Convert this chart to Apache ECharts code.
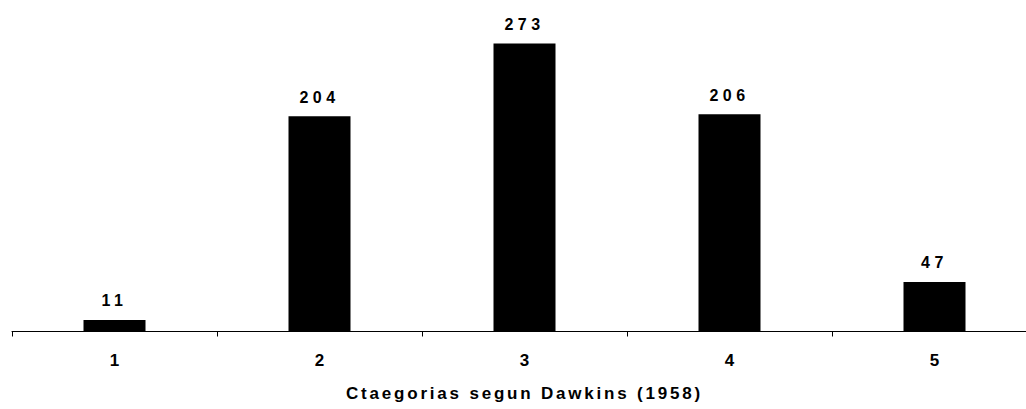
<!DOCTYPE html>
<html><head><meta charset="utf-8">
<script src="https://cdn.jsdelivr.net/npm/echarts@6/dist/echarts.min.js"></script>
<style>html,body{margin:0;padding:0;background:#fff}#c{width:1026px;height:409px}</style>
</head><body><div id="c"></div>
<script>
const categories = ['1','2','3','4','5'];
const values = [11, 204, 273, 206, 47];
const axisTitle = 'Ctaegorias segun Dawkins (1958)';
const FONT = "'Liberation Sans', Arial, sans-serif";
const chart = echarts.init(document.getElementById('c'), null, {renderer: 'svg'});
chart.setOption({
  animation: false,
  grid: {left: 12, top: 15, width: 1025, height: 316.5, containLabel: false, outerBoundsMode: 'none'},
  xAxis: {
    type: 'category', data: categories,
    axisLine: {lineStyle: {color: '#000', width: 1}},
    axisTick: {show: true, length: 5, lineStyle: {color: '#000'}},
    axisLabel: {color: '#000', fontWeight: 'bold', fontSize: 17, fontFamily: FONT, margin: 20},
    name: axisTitle, nameLocation: 'middle', nameGap: 53,
    nameTextStyle: {color: '#000', fontWeight: 'bold', fontSize: 17, fontFamily: FONT}
  },
  yAxis: {type: 'value', min: 0, max: 300, show: false, splitLine: {show: false}},
  series: [{
    type: 'bar', data: values, barWidth: 62,
    itemStyle: {color: '#000'},
    label: {show: true, position: 'top', distance: 11, color: '#000', fontWeight: 'bold', fontSize: 16, fontFamily: FONT}
  }]
});
function spaceText() {
  document.querySelectorAll('#c svg text').forEach(function (t) {
    const s = t.textContent;
    if (/^\d{2,}$/.test(s)) t.style.letterSpacing = '4.5px';
    else if (s.length > 3) t.style.letterSpacing = '2.8px';
  });
}
spaceText();
chart.on('finished', spaceText);
</script></body></html>
